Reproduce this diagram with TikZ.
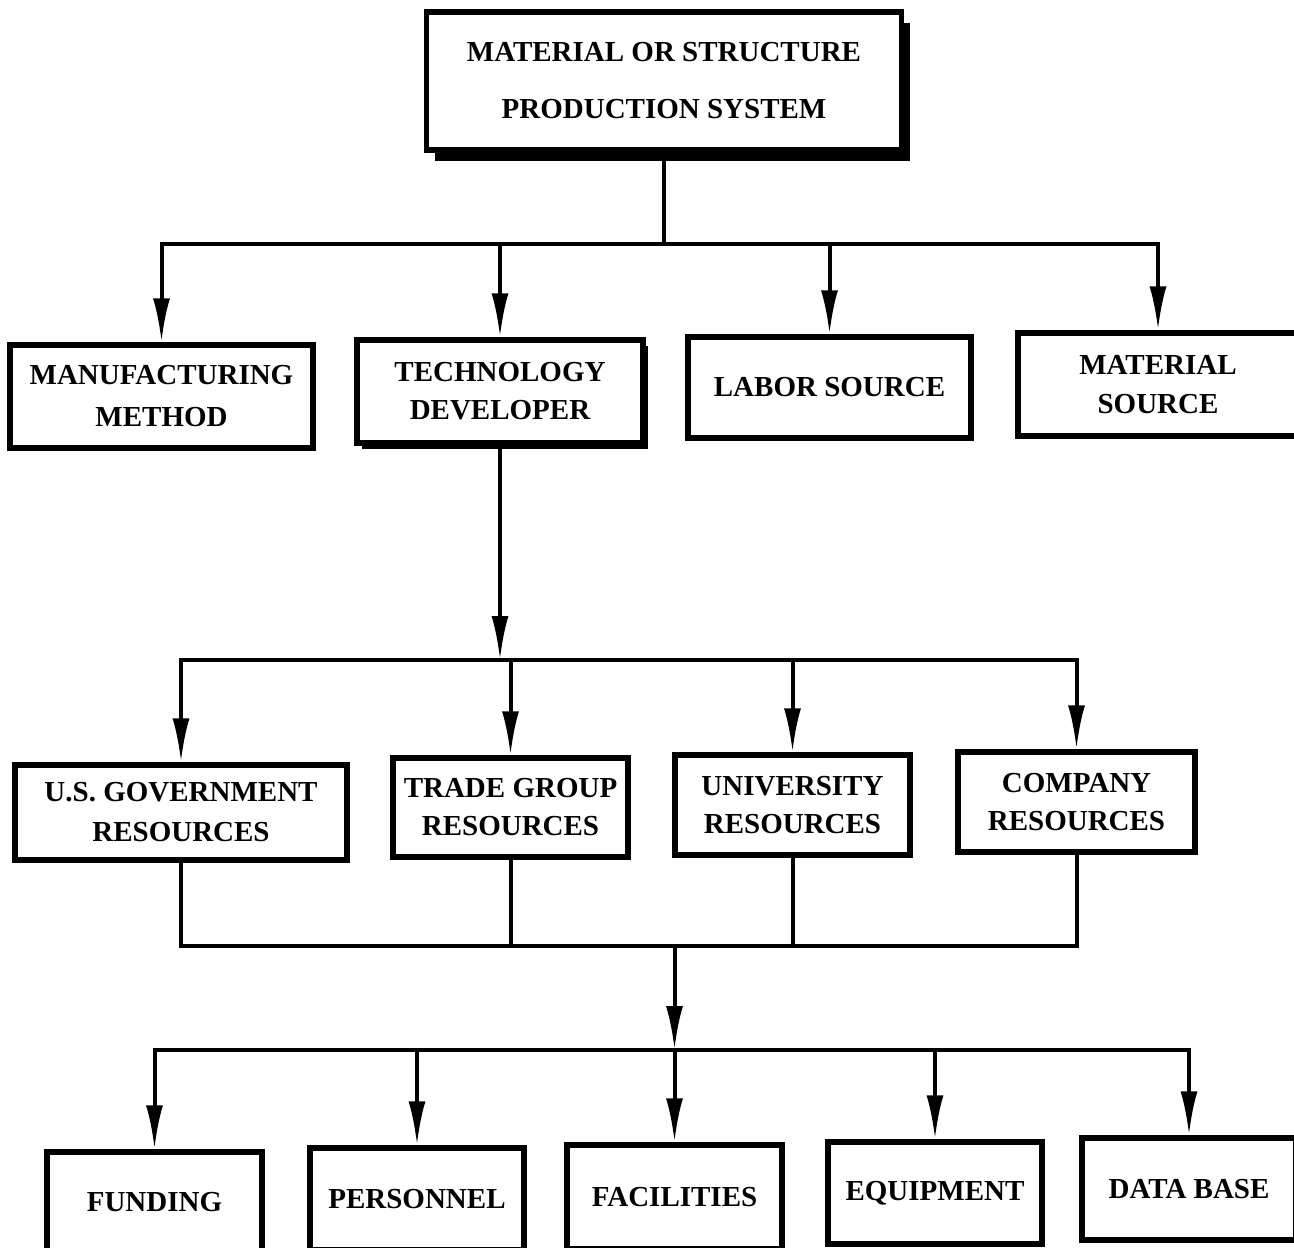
\documentclass[tikz,border=0pt]{standalone}
\usepackage{fontspec}
\setmainfont{Liberation Serif}
\usetikzlibrary{arrows.meta,shadows}
\begin{document}
\begin{tikzpicture}[x=1pt,y=-1pt,
  box/.style={draw=black, line width=5.5pt, fill=white, align=center, inner sep=0pt,
    font=\bfseries\fontsize{29}{38}\selectfont},
  conn/.style={line width=4pt, line cap=rect},
  arr/.style={line width=4pt, -{Latex[length=44pt,width=17pt]}},
]
\fill[white] (0,0) rectangle (1294,1248);
\useasboundingbox (0,0) rectangle (1294,1248);

% level 0
\node[box, minimum width=475pt, minimum height=138pt,
  drop shadow={shadow xshift=8pt, shadow yshift=-11pt, fill=black, opacity=1}]
  (top) at (664,81) {MATERIAL OR STRUCTURE\\[19pt]PRODUCTION SYSTEM};

% level 1
\node[box, minimum width=303pt, minimum height=103pt] (manuf) at (161.5,396.5) {MANUFACTURING\\[4pt]METHOD};
\node[box, minimum width=286pt, minimum height=103pt,
  drop shadow={shadow xshift=5pt, shadow yshift=-6pt, fill=black, opacity=1}]
  (tech) at (500,391.5) {TECHNOLOGY\\DEVELOPER};
\node[box, minimum width=283pt, minimum height=101pt] (labor) at (829.5,387.5) {LABOR SOURCE};
\node[box, minimum width=280pt, minimum height=103pt] (mat) at (1158,384.5) {MATERIAL\\[1pt]SOURCE};

% level 2
\node[box, minimum width=332pt, minimum height=95pt] (usgov) at (181,812.5) {U.S. GOVERNMENT\\[2pt]RESOURCES};
\node[box, minimum width=235pt, minimum height=99pt] (trade) at (510.5,807.5) {TRADE GROUP\\RESOURCES};
\node[box, minimum width=235pt, minimum height=100pt] (univ) at (792.5,805) {UNIVERSITY\\RESOURCES};
\node[box, minimum width=237pt, minimum height=100pt] (comp) at (1076.5,802) {COMPANY\\RESOURCES};

% level 3
\node[box, minimum width=215pt, minimum height=100pt] (fund) at (154.5,1202) {FUNDING};
\node[box, minimum width=214pt, minimum height=102pt] (pers) at (417,1199) {PERSONNEL};
\node[box, minimum width=215pt, minimum height=104pt] (fac) at (674.5,1197) {FACILITIES};
\node[box, minimum width=214pt, minimum height=102pt] (equip) at (935,1193) {EQUIPMENT};
\node[box, minimum width=214pt, minimum height=102pt] (db) at (1189,1189) {DATA BASE};

\coordinate (y1) at (0,244);
\coordinate (y2) at (0,660);
\coordinate (y3) at (0,946);
\coordinate (y4) at (0,1050);

% connectors level 0 -> 1
\draw[conn] (top.south) -- (top.south |- y1);
\draw[conn] (manuf.north |- y1) -- (mat.north |- y1);
\foreach \n in {manuf,tech,labor,mat}
  \draw[arr] (\n.north |- y1) -- (\n.north);

% level 1 -> 2
\draw[arr] (tech.south) -- (tech.south |- y2);
\draw[conn] (usgov.north |- y2) -- (comp.north |- y2);
\foreach \n in {usgov,trade,univ,comp}
  \draw[arr] (\n.north |- y2) -- (\n.north);

% level 2 -> 3
\foreach \n in {usgov,trade,univ,comp}
  \draw[conn] (\n.south) -- (\n.south |- y3);
\draw[conn] (usgov.south |- y3) -- (comp.south |- y3);
\draw[arr] (fac.north |- y3) -- (fac.north |- y4);
\draw[conn] (fund.north |- y4) -- (db.north |- y4);
\foreach \n in {fund,pers,fac,equip,db}
  \draw[arr] (\n.north |- y4) -- (\n.north);
\end{tikzpicture}
\end{document}
